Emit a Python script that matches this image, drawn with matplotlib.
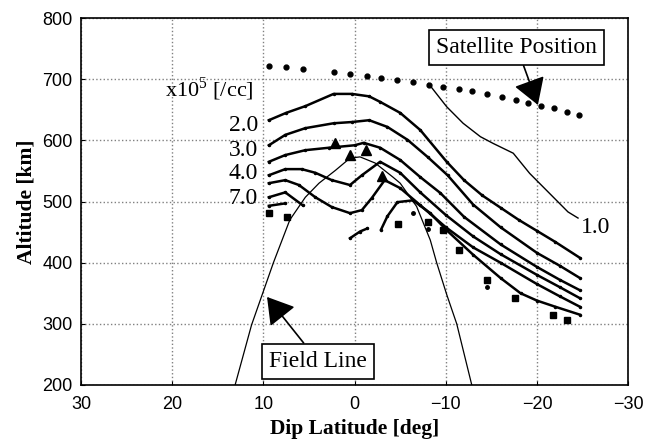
import matplotlib.pyplot as plt

plt.rcParams['mathtext.fontset'] = 'custom'
plt.rcParams['mathtext.rm'] = 'Liberation Serif'

# satellite track
sat_lat = [9.4, 7.5, 5.65, 2.25, 0.5, -1.37, -2.9, -4.66, -6.41, -8.17, -9.7, -11.46,
           -12.89, -14.53, -16.18, -17.71, -19.03, -20.46, -21.88, -23.31, -24.62]
sat_alt = [721, 720, 717, 712, 708, 705, 702, 699, 695, 690, 687, 684,
           681, 676, 671, 666, 661, 656, 653, 646, 641]

# density contours (x10^5 /cc)
c10_lat = [-8.1, -10.1, -11.9, -13.8, -15.2, -17.4, -19.2, -21.4, -23.4, -24.5]
c10_alt = [693, 655, 628, 606, 595, 579, 546, 513, 483, 473]

c1_lat = [9.4, 7.5, 5.4, 2.3, 0.3, -1.6, -2.8, -5.0, -7.2, -10.1, -12.0, -14.0, -16.0, -18.0, -20.0, -22.0, -24.7]
c1_alt = [633, 645, 656, 676, 676, 672, 663, 645, 617, 565, 535, 510, 490, 470, 452, 434, 408]

c2_lat = [9.4, 7.6, 5.4, 2.3, 0.3, -1.6, -3.6, -5.8, -8.0, -10.2, -13.0, -16.0, -20.0, -22.5, -24.7]
c2_alt = [592, 609, 620, 628, 630, 633, 622, 601, 573, 543, 495, 458, 416, 395, 375]

c3_lat = [9.4, 7.6, 5.4, 2.8, 0.0, -1.0, -2.8, -5.0, -7.2, -9.4, -12.0, -16.0, -20.0, -22.5, -24.7]
c3_alt = [565, 576, 584, 588, 592, 596, 588, 568, 540, 514, 475, 430, 393, 372, 355]

c4_lat = [9.4, 7.6, 5.8, 4.3, 2.5, 0.5, -0.8, -2.8, -5.0, -7.2, -10.0, -13.0, -16.0, -20.0, -22.5, -24.7]
c4_alt = [543, 553, 553, 547, 535, 527, 543, 565, 547, 515, 478, 443, 414, 380, 360, 342]

c5_lat = [9.4, 7.6, 6.1, 4.3, 2.5, 0.5, -0.8, -1.9, -3.3, -5.0, -7.2, -10.0, -13.0, -16.0, -20.0, -22.5, -24.7]
c5_alt = [530, 535, 527, 507, 491, 481, 486, 506, 535, 522, 494, 458, 425, 400, 365, 345, 328]

c6_lat = [9.4, 7.6, 5.7]
c6_alt = [507, 515, 494]

c7_lat = [9.4, 7.6]
c7_alt = [493, 497]

c8_lat = [0.5, -0.6, -1.4]
c8_alt = [440, 451, 456]

c9_lat = [-2.9, -3.6, -4.7, -6.4, -8.3, -10.1, -13.0, -16.0, -18.2, -20.0, -22.0, -24.7]
c9_alt = [454, 476, 499, 502, 481, 453, 413, 375, 350, 338, 328, 315]

# observed points
tri_lat = [2.2, 0.5, -1.3, -3.0]
tri_alt = [595, 576, 584, 541]
sq_lat = [9.4, 7.4, -4.8, -8.1, -9.7, -11.4, -14.5, -17.6, -21.8, -23.3]
sq_alt = [482, 475, 464, 466, 453, 421, 372, 342, 314, 306]
dot_lat = [-8.1, -14.5, -6.4]
dot_alt = [455, 360, 481]

# field line
fl_lat = [13.1, 11.3, 8.9, 7.1, 5.4, 3.9, 2.1, 0.5, -0.6, -2.25, -4.2, -5.0, -6.8, -8.3, -9.0, -10.1, -11.2, -12.85]
fl_alt = [200, 298, 400, 470, 507, 530, 551, 571, 573, 563, 540, 530, 492, 437, 400, 348, 300, 200]

labels = ["2.0", "3.0", "4.0", "7.0"]
label_alt = [625, 584, 546, 505]

fig = plt.figure(figsize=(6.53, 4.41), dpi=100)
ax = fig.add_axes([0.124, 0.127, 0.838, 0.832])

ax.plot(sat_lat, sat_alt, 'o', color='black', markersize=3.5)
ax.plot(c10_lat, c10_alt, '-', color='black', lw=1.0)
for la, al in [(c1_lat, c1_alt), (c2_lat, c2_alt), (c3_lat, c3_alt), (c4_lat, c4_alt),
               (c5_lat, c5_alt), (c6_lat, c6_alt), (c7_lat, c7_alt), (c8_lat, c8_alt),
               (c9_lat, c9_alt)]:
    ax.plot(la, al, '-', color='black', lw=1.8, marker='.', markersize=3)
ax.plot(fl_lat, fl_alt, '-', color='black', lw=0.9)
ax.plot(tri_lat, tri_alt, '^', color='black', markersize=7)
ax.plot(sq_lat, sq_alt, 's', color='black', markersize=4)
ax.plot(dot_lat, dot_alt, 'o', color='black', markersize=2.5)

serif = 'Liberation Serif'
ax.text(11.1, 684, r'x10$^{5}$ [/cc]', family=serif, fontsize=16, ha='right', va='center')
for t, a in zip(labels, label_alt):
    ax.text(10.6, a, t, family=serif, fontsize=17, ha='right', va='center')
ax.text(-26.4, 458, "1.0", family=serif, fontsize=17, ha='center', va='center')

arrow = dict(arrowstyle='-|>,head_length=0.9,head_width=0.55', mutation_scale=18,
             color='black', lw=1.2, shrinkA=0, shrinkB=0)
ax.annotate("Satellite Position", xy=(-20.1, 658), xytext=(-17.8, 752),
            family=serif, fontsize=17, ha='center', va='center',
            bbox=dict(boxstyle='square,pad=0.3', fc='white', ec='black', lw=1.2),
            arrowprops=arrow)
ax.annotate("Field Line", xy=(9.6, 344), xytext=(4.0, 239),
            family=serif, fontsize=17, ha='center', va='center',
            bbox=dict(boxstyle='square,pad=0.3', fc='white', ec='black', lw=1.2),
            arrowprops=arrow)

ax.set_xlim(30, -30)
ax.set_ylim(200, 800)
ax.set_xticks([30, 20, 10, 0, -10, -20, -30])
ax.set_yticks([200, 300, 400, 500, 600, 700, 800])
ax.grid(True, linestyle=':', color='gray', lw=1.0)
ax.tick_params(direction='in', length=3, labelsize=13)
ax.tick_params(axis='x', pad=8)
ax.tick_params(axis='y', pad=6)
for lab in ax.get_xticklabels() + ax.get_yticklabels():
    lab.set_family('Liberation Sans')
for s in ax.spines.values():
    s.set_linewidth(1.2)
ax.set_xlabel("Dip Latitude [deg]", family=serif, fontweight='bold', fontsize=15.5, labelpad=4)
ax.set_ylabel("Altitude [km]", family=serif, fontweight='bold', fontsize=15.5)

fig.savefig("out.png", dpi=100)
